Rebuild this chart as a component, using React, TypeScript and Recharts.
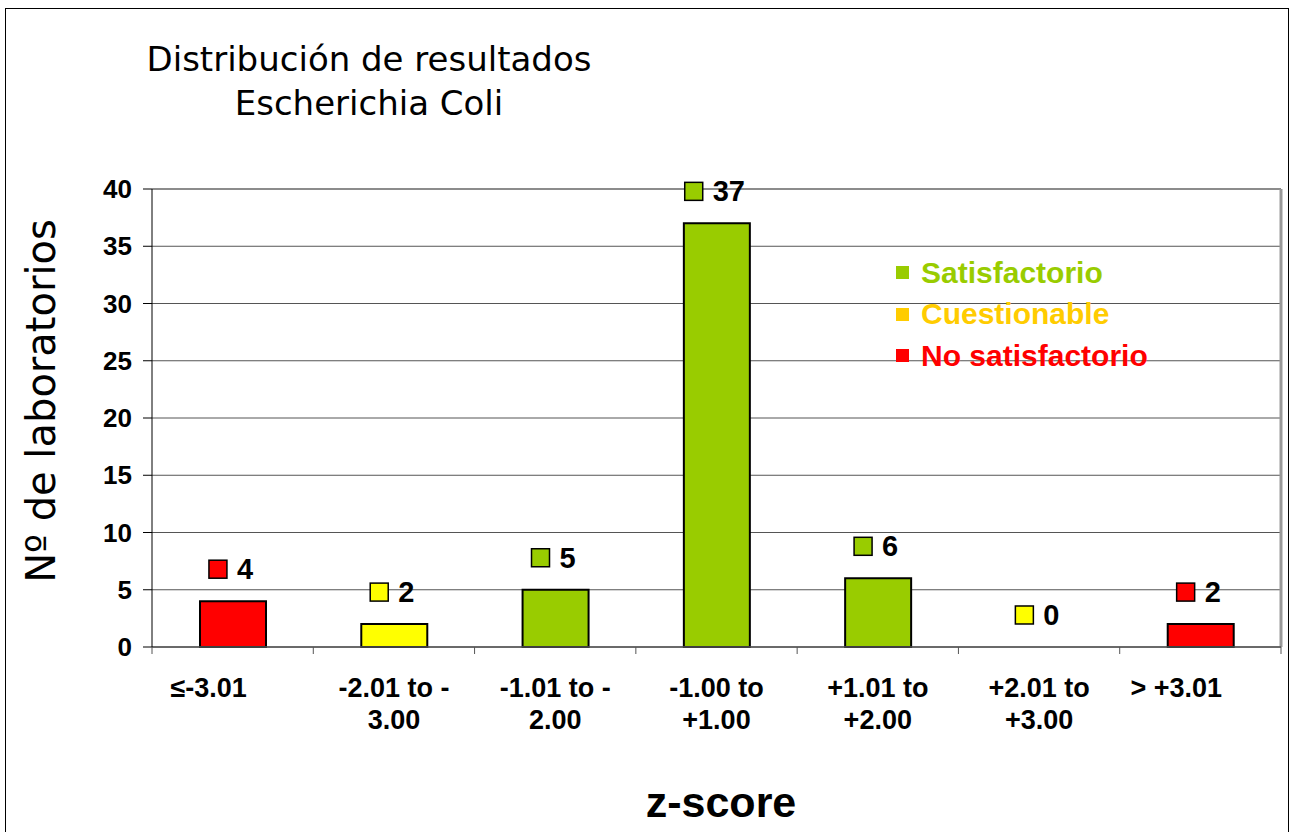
import React from "react";
import {
  Bar,
  BarChart,
  CartesianGrid,
  Cell,
  LabelList,
  Legend,
  ReferenceLine,
  XAxis,
  YAxis,
} from "recharts";

const categories = [
  "≤-3.01",
  "-2.01 to -\n3.00",
  "-1.01 to -\n2.00",
  "-1.00 to\n+1.00",
  "+1.01 to\n+2.00",
  "+2.01 to\n+3.00",
  "> +3.01",
];
const labCounts = [4, 2, 5, 37, 6, 0, 2];
const barColors = ["#FF0000", "#FFFF00", "#99CC00", "#99CC00", "#99CC00", "#FFFF00", "#FF0000"];
const yTicks = [0, 5, 10, 15, 20, 25, 30, 35, 40];
const legendItems = [
  { name: "Satisfactorio", color: "#99CC00" },
  { name: "Cuestionable", color: "#FFCC00" },
  { name: "No satisfactorio", color: "#FF0000" },
];

const data = categories.map((cat, i) => ({ cat, value: labCounts[i] }));

const ARIAL = "'Liberation Sans', Arial, sans-serif";
const HUMANIST = "'DejaVu Sans', 'Open Sans', sans-serif";

function ZTick(props: any) {
  const { x, y, payload, index } = props;
  const half = payload?.offset ?? 80.6;
  const lines = String(payload.value).split("\n");
  const isLast = index === categories.length - 1;
  // single-line labels sit a little left of centre in the original
  const dx = lines.length === 1 ? -24 : 0;
  return (
    <g>
      <line x1={x - half} x2={x - half} y1={y - 12} y2={y - 5} stroke="#555" />
      {isLast && (
        <line x1={x + half} x2={x + half} y1={y - 12} y2={y - 5} stroke="#555" />
      )}
      {lines.map((ln, k) => (
        <text
          key={k}
          x={x + dx}
          y={y + 29 + k * 32}
          textAnchor="middle"
          dominantBaseline="central"
          fontFamily={ARIAL}
          fontWeight="bold"
          fontSize={27}
          fill="#000"
        >
          {ln}
        </text>
      ))}
    </g>
  );
}

function CountLabel(props: any) {
  const { x, y, width, height, value, index } = props;
  const fontSize = 29;
  const textW = String(value).length * 0.556 * fontSize;
  const sq = 18;
  const gap = 10;
  const total = sq + gap + textW;
  const cx = x + width / 2;
  const left = cx - total / 2 - 2;
  const top = Math.min(y, y + height);
  const cy = top - 32;
  return (
    <g>
      <rect
        x={left}
        y={cy - sq / 2}
        width={sq}
        height={sq}
        fill={barColors[index]}
        stroke="#000"
        strokeWidth={1.5}
      />
      <text
        x={left + sq + gap}
        y={cy}
        dominantBaseline="central"
        fontFamily={ARIAL}
        fontWeight="bold"
        fontSize={fontSize}
        fill="#000"
      >
        {value}
      </text>
    </g>
  );
}

function LegendBox() {
  return (
    <div style={{ fontFamily: ARIAL, fontWeight: "bold", fontSize: 30 }}>
      {legendItems.map((it) => (
        <div
          key={it.name}
          style={{ display: "flex", alignItems: "center", height: 41.5, color: it.color }}
        >
          <span
            style={{
              display: "inline-block",
              width: 13,
              height: 13,
              background: it.color,
              marginRight: 12,
            }}
          />
          {it.name}
        </div>
      ))}
    </div>
  );
}

export default function App() {
  return (
    <div
      style={{
        position: "fixed",
        left: 0,
        top: 0,
        width: 1292,
        height: 832,
        overflow: "hidden",
        background: "#fff",
      }}
    >
      <div
        style={{
          position: "absolute",
          left: 5,
          top: 8,
          width: 1284,
          height: 840,
          border: "1.5px solid #000",
          boxSizing: "border-box",
        }}
      />
      <div
        style={{
          position: "absolute",
          left: 69,
          width: 600,
          top: 37,
          textAlign: "center",
          fontFamily: HUMANIST,
          fontSize: 34,
          lineHeight: "44px",
          color: "#000",
        }}
      >
        Distribución de resultados
        <br />
        Escherichia Coli
      </div>
      <div
        style={{
          position: "absolute",
          left: 41,
          top: 401,
          transform: "translate(-50%, -50%) rotate(-90deg)",
          whiteSpace: "nowrap",
          fontFamily: HUMANIST,
          fontSize: 40,
          color: "#000",
        }}
      >
        Nº de laboratorios
      </div>
      <div
        style={{
          position: "absolute",
          left: 721,
          top: 802,
          transform: "translate(-50%, -50%)",
          whiteSpace: "nowrap",
          fontFamily: ARIAL,
          fontWeight: "bold",
          fontSize: 43,
          color: "#000",
        }}
      >
        z-score
      </div>
      <div style={{ position: "absolute", left: 0, top: 0 }}>
        <BarChart
          width={1292}
          height={832}
          data={data}
          margin={{ top: 189, right: 11, left: 92, bottom: 85 }}
        >
          <CartesianGrid vertical={false} stroke="#555" strokeWidth={1} />
          <XAxis
            dataKey="cat"
            interval={0}
            height={100}
            tickLine={false}
            axisLine={{ stroke: "#555", strokeWidth: 1.5 }}
            tick={<ZTick />}
            tickMargin={0}
            tickSize={12}
          />
          <YAxis
            width={60}
            domain={[0, 40]}
            ticks={yTicks}
            interval={0}
            tickSize={9}
            tickMargin={11}
            axisLine={{ stroke: "#000", strokeWidth: 1 }}
            tickLine={{ stroke: "#000" }}
            tick={{
              fill: "#000",
              fontFamily: ARIAL,
              fontWeight: "bold",
              fontSize: 26,
            }}
          />
          <ReferenceLine y={40} stroke="#8c8c8c" strokeWidth={2} />
          <ReferenceLine
            x={categories[categories.length - 1]}
            position="end"
            stroke="#999"
            strokeWidth={3}
          />
          <Legend
            layout="horizontal"
            verticalAlign="middle"
            align="center"
            content={<LegendBox />}
            wrapperStyle={{ position: "absolute", left: 896, top: 252, width: 360 }}
          />
          <Bar
            dataKey="value"
            barSize={66}
            stroke="#000"
            strokeWidth={2}
            minPointSize={0.01}
            isAnimationActive={false}
          >
            {data.map((d, i) => (
              <Cell
                key={d.cat}
                fill={barColors[i]}
                stroke={d.value === 0 ? "none" : "#000"}
              />
            ))}
            <LabelList dataKey="value" content={<CountLabel />} />
          </Bar>
        </BarChart>
      </div>
    </div>
  );
}
